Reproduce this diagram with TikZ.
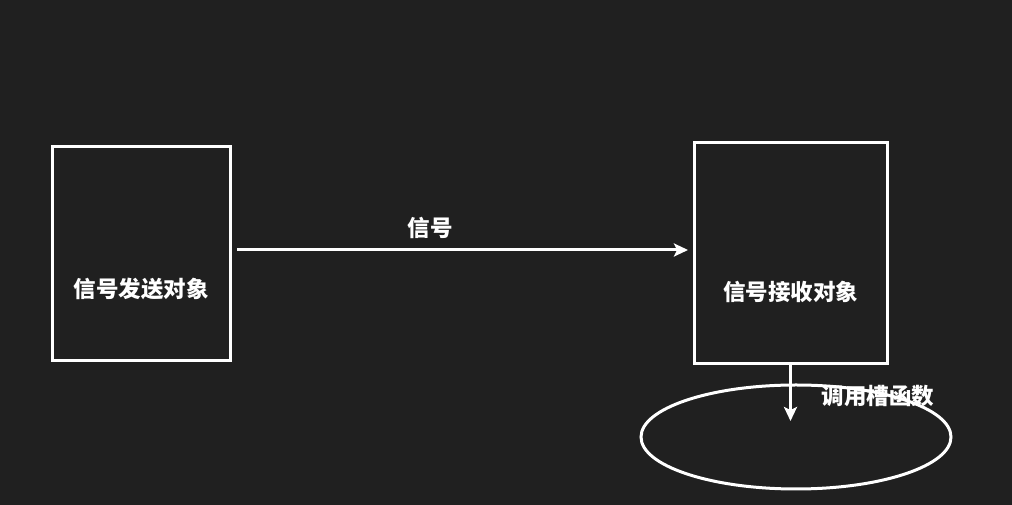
\documentclass[tikz,border=0pt]{standalone}
\usepackage{fontspec}
\newfontfamily\cjk{Noto Sans CJK SC}
\usetikzlibrary{shapes.geometric,arrows.meta}
\definecolor{bg}{HTML}{202020}
\tikzset{
  box/.style={draw=white, line width=3pt, inner sep=0pt},
  lbl/.style={text=white, font=\cjk\bfseries\fontsize{22.5pt}{26pt}\selectfont, inner sep=0pt},
  arr/.style={draw=white, line width=3pt, -{Stealth[length=14pt,width=13pt,inset=3pt]}},
}
\begin{document}
\begin{tikzpicture}[x=1pt,y=1pt]
\fill[bg] (0,0) rectangle (1012,505);
\useasboundingbox (0,0) rectangle (1012,505);
\node[box, minimum width=178pt, minimum height=214pt] (lbox) at (141,251) {};
\node[lbl] (ltext) at (141,216) {信号发送对象};
\node[box, minimum width=193pt, minimum height=221pt] (rbox) at (790.5,251.5) {};
\node[lbl] (rtext) at (790.5,213) {信号接收对象};
\node[box, shape=ellipse, minimum width=310pt, minimum height=104pt] (ell) at (796,68) {};
\draw[arr] ([shift={(5.5pt,4pt)}]lbox.east) -- ([shift={(-4.5pt,3.5pt)}]rbox.west);
\node[lbl] (sig) at (430,277) {信号};
\draw[arr] (rbox.south) -- (rbox.south |- 0,84);
\node[lbl] (slot) at (878,109) {调用槽函数};
\end{tikzpicture}
\end{document}
